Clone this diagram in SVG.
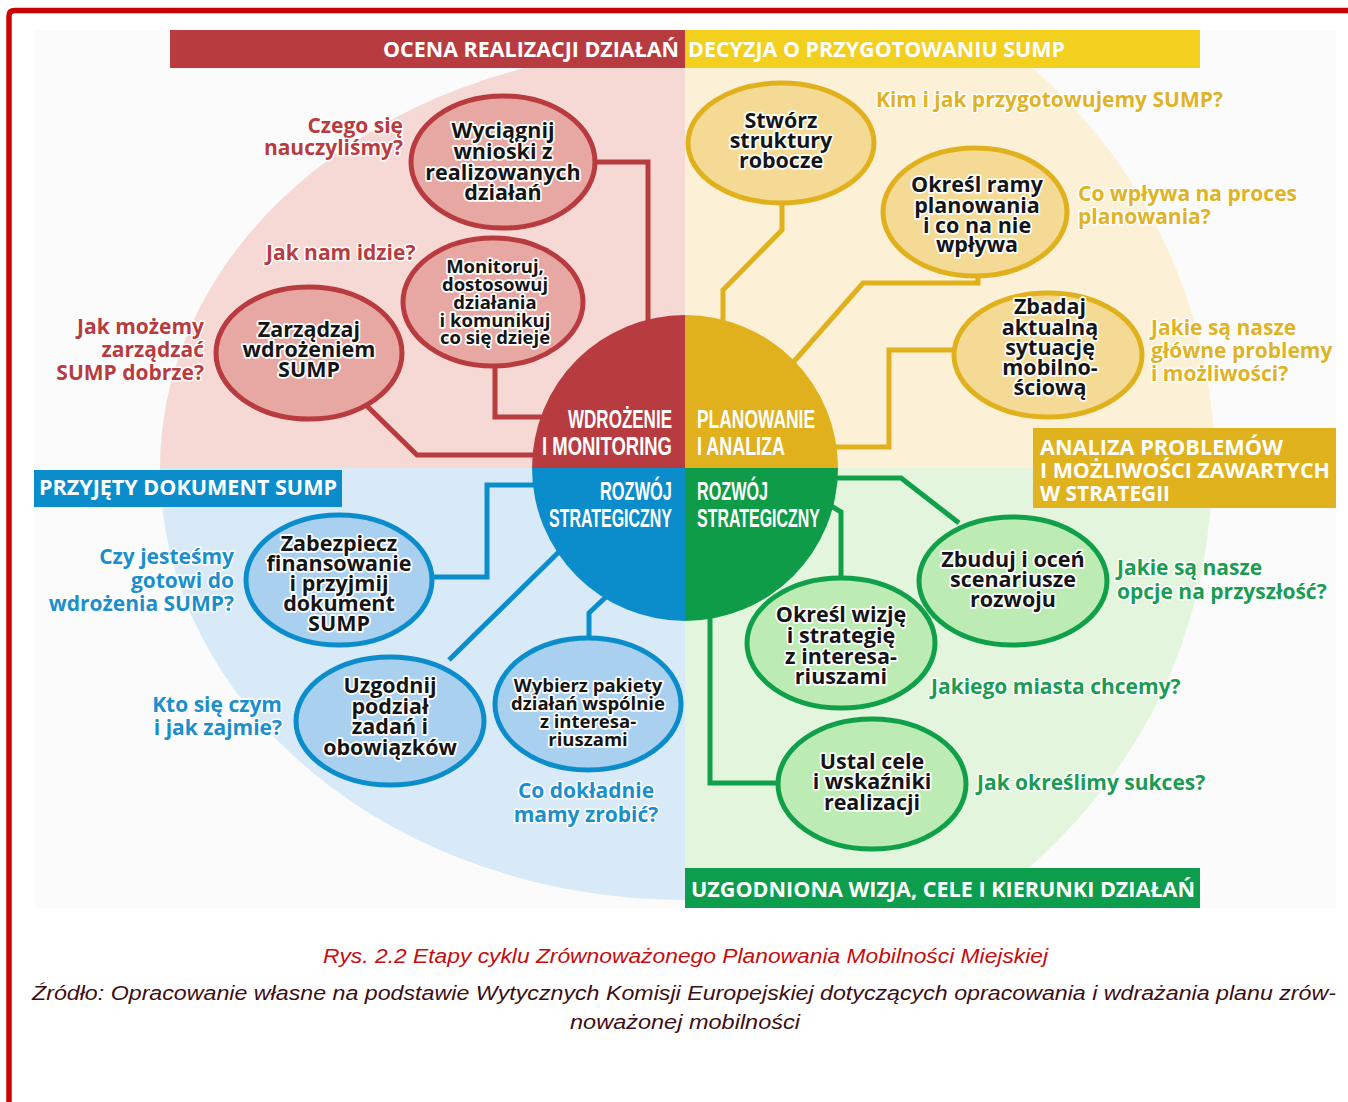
<svg xmlns="http://www.w3.org/2000/svg" width="1348" height="1102" viewBox="0 0 1348 1102">
<defs>
<clipPath id="box"><rect x="34" y="30" width="1302" height="878"/></clipPath>
<style>
.nt{font-family:"Open Sans","Liberation Sans",sans-serif;font-weight:700;font-size:21.5px;fill:#141414;stroke:#fff;stroke-width:3.5px;paint-order:stroke;stroke-linejoin:round;text-anchor:middle}
.ns{font-size:18.5px}
.q{font-family:"Open Sans","Liberation Sans",sans-serif;font-weight:700;font-size:21px;stroke:#fff;stroke-width:3px;paint-order:stroke;stroke-linejoin:round}
.qr{fill:#b83b40}.qy{fill:#e0b326}.qb{fill:#1b8fcb}.qg{fill:#1a9c52}
.end{text-anchor:end}.mid{text-anchor:middle}
.bn{font-family:"Open Sans","Liberation Sans",sans-serif;font-weight:700;font-size:21px;fill:#fff}
.ct{font-family:"Liberation Sans",Arial,sans-serif;font-weight:700;font-size:25px;fill:#fff}
.cap{font-family:"Liberation Sans",Arial,sans-serif;font-style:italic;font-size:20.5px}
.nr{fill:#e7a8a4;stroke:#b83b40;stroke-width:5}
.ny{fill:#f5da96;stroke:#e0b11c;stroke-width:5}
.nb{fill:#a9d1ef;stroke:#0b8dcb;stroke-width:5}
.ng{fill:#bdebb4;stroke:#10a04a;stroke-width:5}
.c{fill:none;stroke-width:5;stroke-linejoin:miter}
</style>
</defs>
<rect width="1348" height="1102" fill="#fff"/>
<path d="M9,1102 V16 Q9,10.5 15,10.5 H1348" fill="none" stroke="#cc0000" stroke-width="5.5"/>
<g id="background" clip-path="url(#box)">
<rect x="34" y="30" width="1302" height="878" fill="#fbfbfb"/>
<path d="M685,468 H160 A525,420 0 0 1 685,48 Z" fill="#f6d8d4"/>
<path d="M685,468 V-62 A530,530 0 0 1 1215,468 Z" fill="#fcf1d6"/>
<path d="M685,468 H1212 A527,527 0 0 1 685,995 Z" fill="#e3f5dd"/>
<path d="M685,468 V900 A525,432 0 0 1 160,468 Z" fill="#d8eaf8"/>
</g>
<g id="connectors">
<path class="c" stroke="#b83b40" d="M596,162 H648 V330"/>
<path class="c" stroke="#b83b40" d="M495,364 V417 H560"/>
<path class="c" stroke="#b83b40" d="M366,405 L417,455 H560"/>
<path class="c" stroke="#e0b11c" d="M782,200 V230 L723,290 V330"/>
<path class="c" stroke="#e0b11c" d="M978,274 V283 H863 L790,366"/>
<path class="c" stroke="#e0b11c" d="M956,350 H889 V447 H830"/>
<path class="c" stroke="#0b8dcb" d="M430,577 H487 V485 H560"/>
<path class="c" stroke="#0b8dcb" d="M575,536 L449,660"/>
<path class="c" stroke="#0b8dcb" d="M610,593 L589,613 V640"/>
<path class="c" stroke="#10a04a" d="M820,478 H901 L959,523"/>
<path class="c" stroke="#10a04a" d="M828,504 L841,512 V580"/>
<path class="c" stroke="#10a04a" d="M710,610 V783 H782"/>
</g>
<g id="banners">
<rect x="170" y="30" width="515" height="38" fill="#b83b40"/>
<text class="bn" x="383" y="57" textLength="296" lengthAdjust="spacingAndGlyphs">OCENA REALIZACJI DZIAŁAŃ</text>
<rect x="685" y="30" width="515" height="38" fill="#f3cf1e"/>
<text class="bn" x="688" y="57" textLength="377" lengthAdjust="spacingAndGlyphs">DECYZJA O PRZYGOTOWANIU SUMP</text>
<rect x="34" y="470" width="308" height="37" fill="#0b8dcb"/>
<text class="bn" x="39" y="495" textLength="298" lengthAdjust="spacingAndGlyphs">PRZYJĘTY DOKUMENT SUMP</text>
<rect x="1033" y="428" width="303" height="80" fill="#e0b21e"/>
<text class="bn" x="1040" y="455" textLength="243" lengthAdjust="spacingAndGlyphs">ANALIZA PROBLEMÓW</text>
<text class="bn" x="1040" y="478" textLength="290" lengthAdjust="spacingAndGlyphs">I MOŻLIWOŚCI ZAWARTYCH</text>
<text class="bn" x="1040" y="501" textLength="130" lengthAdjust="spacingAndGlyphs">W STRATEGII</text>
<rect x="685" y="868" width="515" height="40" fill="#0c9e4c"/>
<text class="bn" x="691" y="897" textLength="504" lengthAdjust="spacingAndGlyphs">UZGODNIONA WIZJA, CELE I KIERUNKI DZIAŁAŃ</text>
</g>
<g id="center">
<path d="M685,468 H532 A153,153 0 0 1 685,315 Z" fill="#b83b40"/>
<path d="M685,468 V315 A153,153 0 0 1 838,468 Z" fill="#e0b11c"/>
<path d="M685,468 H838 A153,153 0 0 1 685,621 Z" fill="#0e9c49"/>
<path d="M685,468 V621 A153,153 0 0 1 532,468 Z" fill="#0b8dcb"/>
<text class="ct" x="568" y="428" textLength="104" lengthAdjust="spacingAndGlyphs">WDROŻENIE</text>
<text class="ct" x="542" y="455" textLength="130" lengthAdjust="spacingAndGlyphs">I MONITORING</text>
<text class="ct" x="697" y="428" textLength="118" lengthAdjust="spacingAndGlyphs">PLANOWANIE</text>
<text class="ct" x="697" y="455" textLength="88" lengthAdjust="spacingAndGlyphs">I ANALIZA</text>
<text class="ct" x="600" y="500" textLength="72" lengthAdjust="spacingAndGlyphs">ROZWÓJ</text>
<text class="ct" x="549" y="527" textLength="123" lengthAdjust="spacingAndGlyphs">STRATEGICZNY</text>
<text class="ct" x="697" y="500" textLength="71" lengthAdjust="spacingAndGlyphs">ROZWÓJ</text>
<text class="ct" x="697" y="527" textLength="123" lengthAdjust="spacingAndGlyphs">STRATEGICZNY</text>
</g>
<g id="node-wnioski">
<ellipse class="nr" cx="503" cy="162" rx="92" ry="66"/>
<text class="nt" x="503" y="138">Wyciągnij</text>
<text class="nt" x="503" y="159">wnioski z</text>
<text class="nt" x="503" y="180">realizowanych</text>
<text class="nt" x="503" y="200">działań</text>
</g>
<g id="node-monitoruj">
<ellipse class="nr" cx="493" cy="302" rx="90" ry="64"/>
<text class="nt ns" x="495" y="273">Monitoruj,</text>
<text class="nt ns" x="495" y="291">dostosowuj</text>
<text class="nt ns" x="495" y="309">działania</text>
<text class="nt ns" x="495" y="327">i komunikuj</text>
<text class="nt ns" x="495" y="344">co się dzieje</text>
</g>
<g id="node-zarzadzaj">
<ellipse class="nr" cx="309" cy="353" rx="93" ry="66"/>
<text class="nt" x="309" y="337">Zarządzaj</text>
<text class="nt" x="309" y="357">wdrożeniem</text>
<text class="nt" x="309" y="377">SUMP</text>
</g>
<g id="node-struktury">
<ellipse class="ny" cx="781" cy="143" rx="93" ry="60"/>
<text class="nt" x="781" y="128">Stwórz</text>
<text class="nt" x="781" y="148">struktury</text>
<text class="nt" x="781" y="168">robocze</text>
</g>
<g id="node-ramy">
<ellipse class="ny" cx="975" cy="212" rx="92" ry="64"/>
<text class="nt" x="977" y="192">Określ ramy</text>
<text class="nt" x="977" y="213">planowania</text>
<text class="nt" x="977" y="233">i co na nie</text>
<text class="nt" x="977" y="252">wpływa</text>
</g>
<g id="node-zbadaj">
<ellipse class="ny" cx="1048" cy="355" rx="94" ry="62"/>
<text class="nt" x="1050" y="314">Zbadaj</text>
<text class="nt" x="1050" y="335">aktualną</text>
<text class="nt" x="1050" y="355">sytuację</text>
<text class="nt" x="1050" y="375">mobilno-</text>
<text class="nt" x="1050" y="395">ściową</text>
</g>
<g id="node-zabezpiecz">
<ellipse class="nb" cx="339" cy="580" rx="93" ry="65"/>
<text class="nt" x="339" y="551">Zabezpiecz</text>
<text class="nt" x="339" y="571">finansowanie</text>
<text class="nt" x="339" y="591">i przyjmij</text>
<text class="nt" x="339" y="611">dokument</text>
<text class="nt" x="339" y="631">SUMP</text>
</g>
<g id="node-uzgodnij">
<ellipse class="nb" cx="390" cy="721" rx="94" ry="64"/>
<text class="nt" x="390" y="693">Uzgodnij</text>
<text class="nt" x="390" y="714">podział</text>
<text class="nt" x="390" y="734">zadań i</text>
<text class="nt" x="390" y="755">obowiązków</text>
</g>
<g id="node-wybierz">
<ellipse class="nb" cx="588" cy="704" rx="93" ry="66"/>
<text class="nt ns" x="588" y="692">Wybierz pakiety</text>
<text class="nt ns" x="588" y="710">działań wspólnie</text>
<text class="nt ns" x="588" y="728">z interesa-</text>
<text class="nt ns" x="588" y="746">riuszami</text>
</g>
<g id="node-scenariusze">
<ellipse class="ng" cx="1013" cy="581" rx="94" ry="64"/>
<text class="nt" x="1013" y="567">Zbuduj i oceń</text>
<text class="nt" x="1013" y="587">scenariusze</text>
<text class="nt" x="1013" y="607">rozwoju</text>
</g>
<g id="node-wizja">
<ellipse class="ng" cx="841" cy="643" rx="94" ry="65"/>
<text class="nt" x="841" y="622">Określ wizję</text>
<text class="nt" x="841" y="643">i strategię</text>
<text class="nt" x="841" y="664">z interesa-</text>
<text class="nt" x="841" y="684">riuszami</text>
</g>
<g id="node-cele">
<ellipse class="ng" cx="872" cy="784" rx="94" ry="65"/>
<text class="nt" x="872" y="769">Ustal cele</text>
<text class="nt" x="872" y="789">i wskaźniki</text>
<text class="nt" x="872" y="810">realizacji</text>
</g>
<g id="questions">
<text class="q qr end" x="403" y="133">Czego się</text>
<text class="q qr end" x="403" y="155">nauczyliśmy?</text>
<text class="q qr" x="266" y="260">Jak nam idzie?</text>
<text class="q qr end" x="204" y="334">Jak możemy</text>
<text class="q qr end" x="204" y="357">zarządzać</text>
<text class="q qr end" x="204" y="380">SUMP dobrze?</text>
<text class="q qy" x="876" y="107">Kim i jak przygotowujemy SUMP?</text>
<text class="q qy" x="1078" y="201">Co wpływa na proces</text>
<text class="q qy" x="1078" y="224">planowania?</text>
<text class="q qy" x="1151" y="335">Jakie są nasze</text>
<text class="q qy" x="1151" y="358">główne problemy</text>
<text class="q qy" x="1151" y="381">i możliwości?</text>
<text class="q qb end" x="234" y="564">Czy jesteśmy</text>
<text class="q qb end" x="234" y="588">gotowi do</text>
<text class="q qb end" x="234" y="611">wdrożenia SUMP?</text>
<text class="q qb end" x="282" y="712">Kto się czym</text>
<text class="q qb end" x="282" y="735">i jak zajmie?</text>
<text class="q qb mid" x="586" y="798">Co dokładnie</text>
<text class="q qb mid" x="586" y="822">mamy zrobić?</text>
<text class="q qg" x="1117" y="575">Jakie są nasze</text>
<text class="q qg" x="1117" y="599">opcje na przyszłość?</text>
<text class="q qg" x="931" y="694">Jakiego miasta chcemy?</text>
<text class="q qg" x="977" y="790">Jak określimy sukces?</text>
</g>
<g id="caption">
<text class="cap" x="323" y="963" fill="#c40d0d" textLength="725" lengthAdjust="spacingAndGlyphs">Rys. 2.2 Etapy cyklu Zrównoważonego Planowania Mobilności Miejskiej</text>
<text class="cap" x="32" y="1000" fill="#3d0f12" textLength="1304" lengthAdjust="spacingAndGlyphs">Źródło: Opracowanie własne na podstawie Wytycznych Komisji Europejskiej dotyczących opracowania i wdrażania planu zrów-</text>
<text class="cap" x="570" y="1029" fill="#3d0f12" textLength="230" lengthAdjust="spacingAndGlyphs">noważonej mobilności</text>
</g>
</svg>
